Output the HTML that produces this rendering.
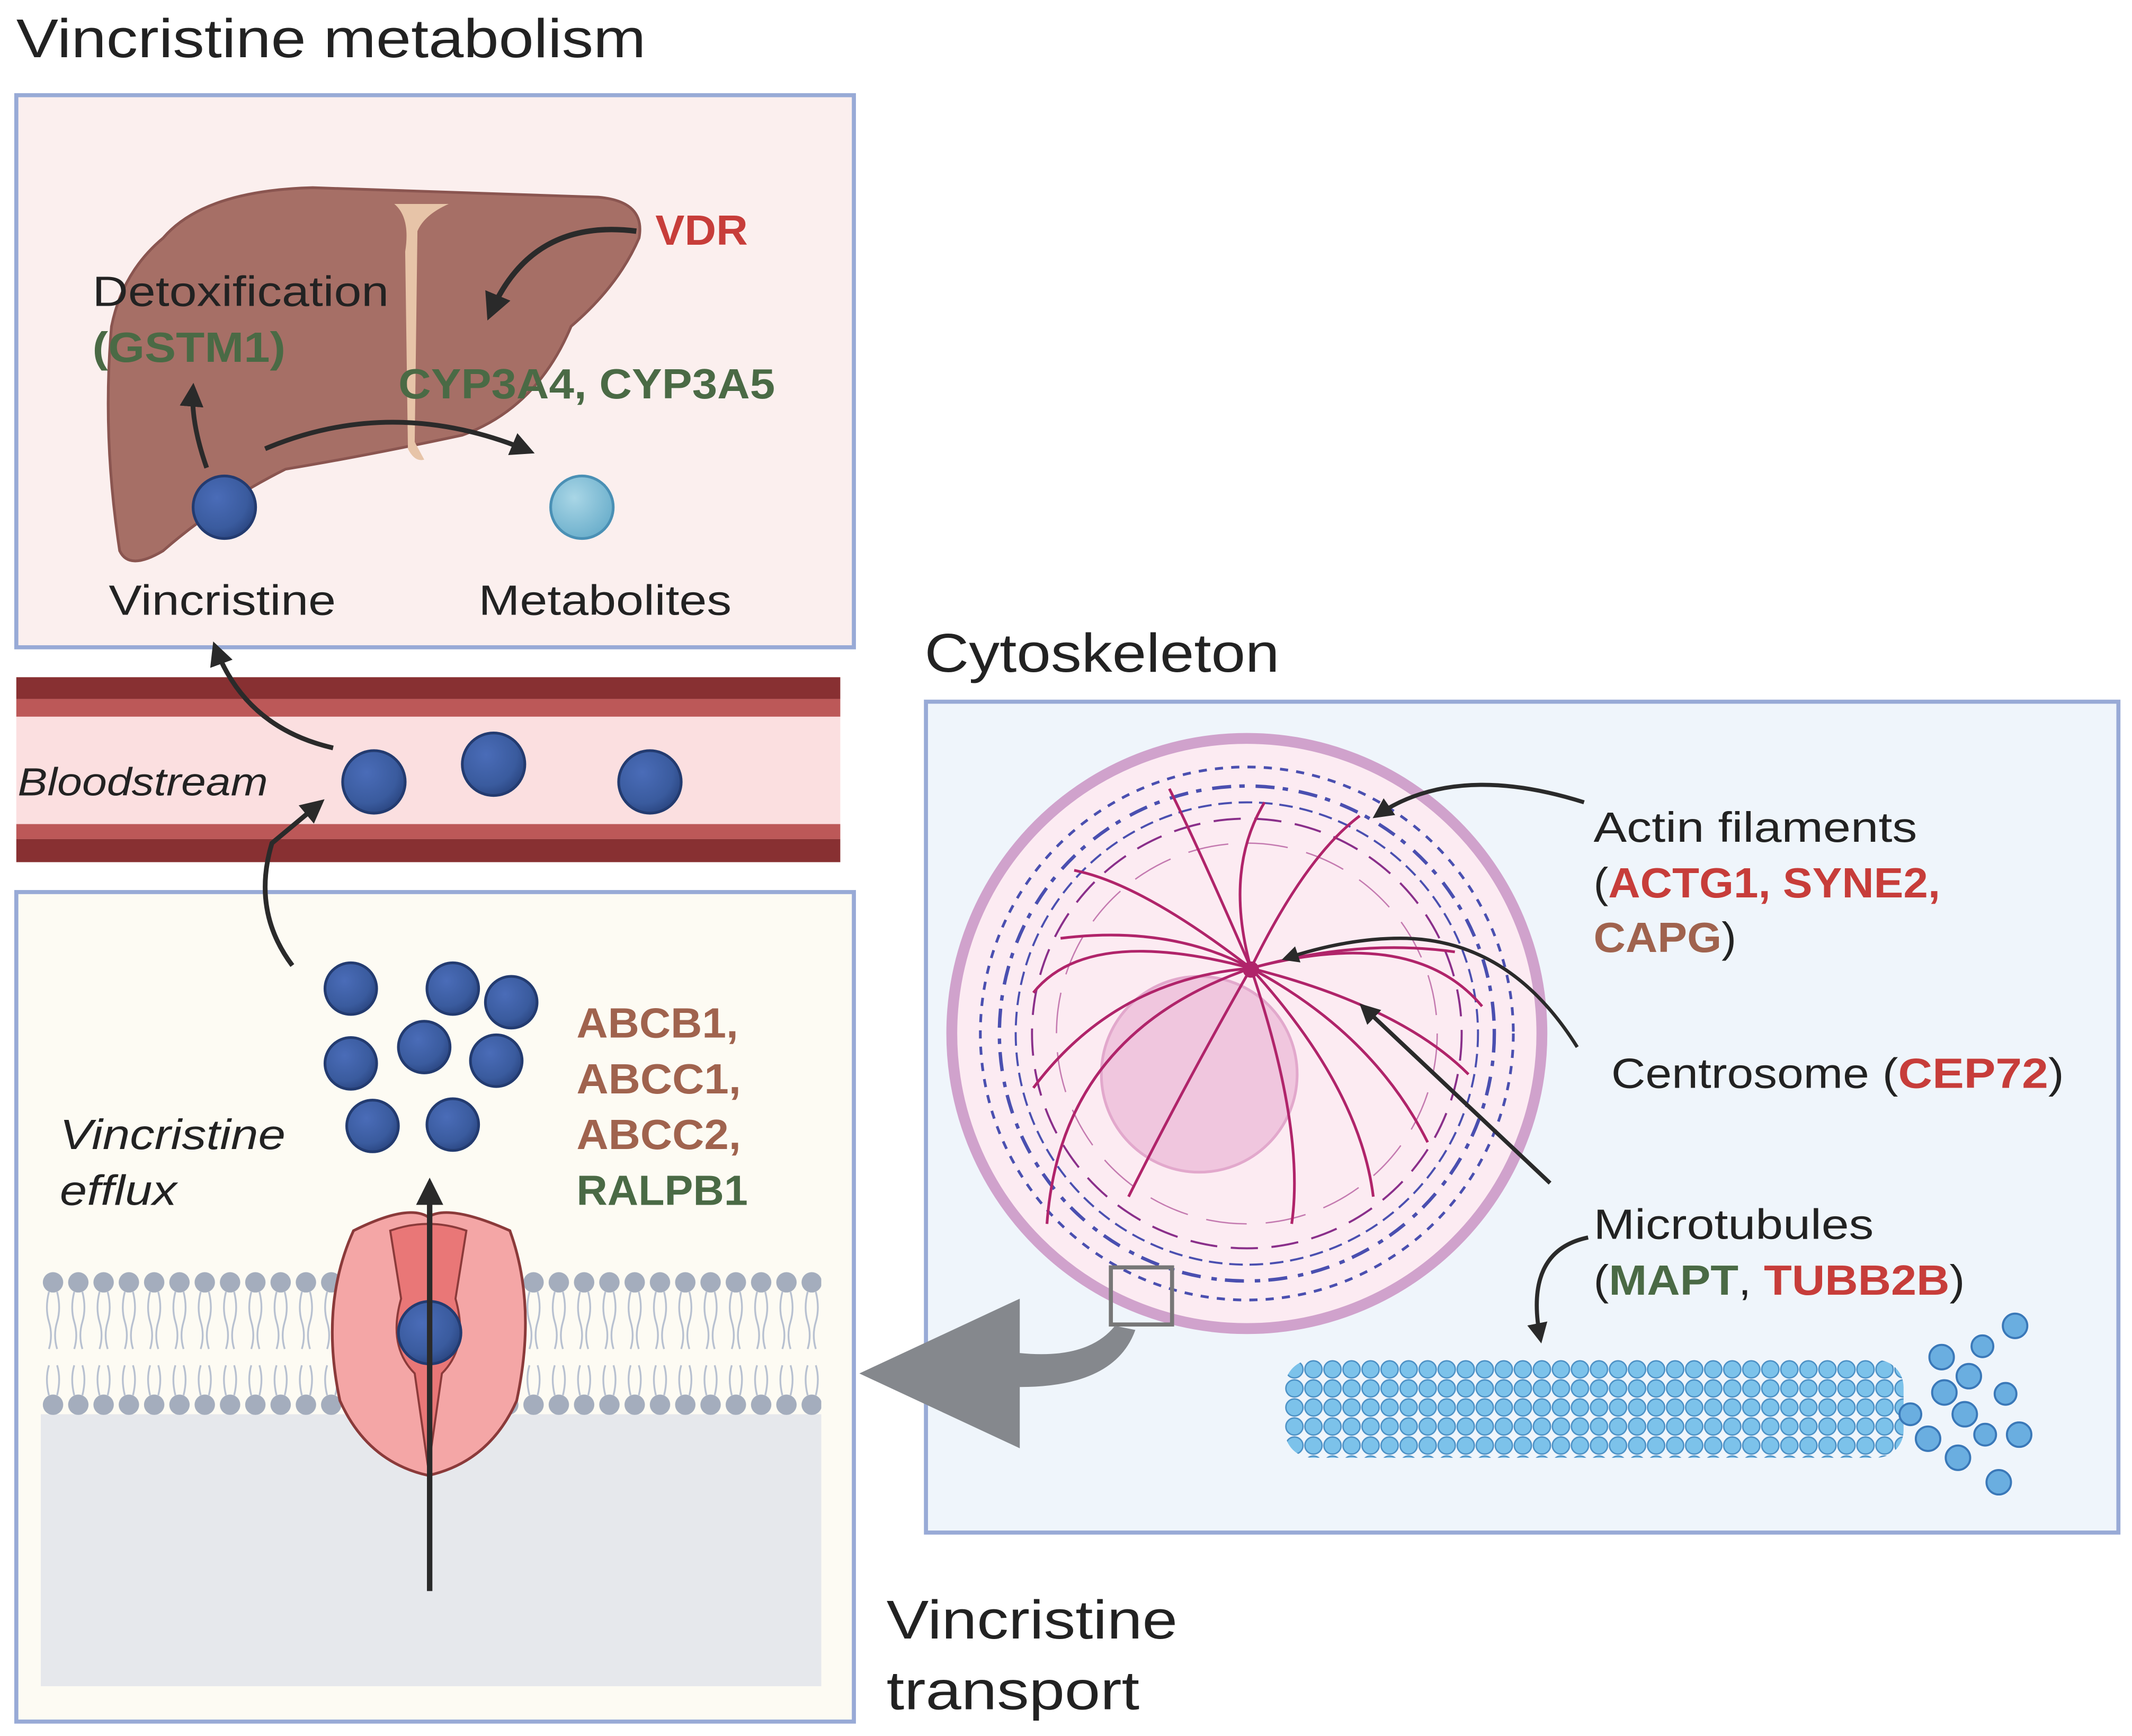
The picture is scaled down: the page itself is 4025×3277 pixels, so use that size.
<!DOCTYPE html>
<html><head><meta charset="utf-8"><style>html,body{margin:0;padding:0;background:#fff}svg{display:block}</style></head><body>
<svg width="4025" height="3277" viewBox="0 0 1568 1276.6" xmlns="http://www.w3.org/2000/svg" font-family="Liberation Sans, sans-serif">
<defs>
<radialGradient id="drug" cx="0.38" cy="0.35" r="0.7"><stop offset="0" stop-color="#4a6cb8"/><stop offset="0.7" stop-color="#3a5b9e"/><stop offset="1" stop-color="#2a4580"/></radialGradient>
<radialGradient id="met" cx="0.38" cy="0.35" r="0.7"><stop offset="0" stop-color="#a9d6e6"/><stop offset="1" stop-color="#6aaecb"/></radialGradient>
<pattern id="mt" x="945" y="1000" width="14" height="14" patternUnits="userSpaceOnUse"><circle cx="7" cy="7" r="6.3" fill="#7cc2ea" stroke="#4a8fc4" stroke-width="1"/></pattern>
<pattern id="lip" x="30" y="930" width="18.6" height="115" patternUnits="userSpaceOnUse"><path d="M6 20 q-3 12 0 22 q3 10 0 20 M12 20 q3 12 0 22 q-3 10 0 20 M6 96 q-3 -12 0 -22 M12 96 q3 -12 0 -22" stroke="#b7c0d0" stroke-width="1.3" fill="none"/><circle cx="9" cy="13" r="7.5" fill="#a4adbd"/><circle cx="9" cy="103" r="7.5" fill="#a4adbd"/></pattern>
<marker id="ah" viewBox="0 0 10 10" refX="8" refY="5" markerWidth="5" markerHeight="5" orient="auto"><path d="M0 0L10 5L0 10z" fill="#2a2a2a"/></marker>
</defs>
<rect width="1568" height="1277" fill="#fff"/>
<!-- metabolism -->
<text x="12" y="42" font-size="40" fill="#222" textLength="463" lengthAdjust="spacingAndGlyphs">Vincristine metabolism</text>
<rect x="12" y="70" width="616" height="406" fill="#fbefee" stroke="#98aad6" stroke-width="3"/>
<path d="M120 175 Q150 140 230 138 L440 145 Q475 148 470 175 Q455 210 420 240 Q395 300 340 320 Q270 335 210 345 Q160 370 120 405 Q95 420 88 405 Q75 320 82 240 Q90 200 120 175Z" fill="#a66f66" stroke="#8a5550" stroke-width="2"/>
<path d="M290 150 Q302 160 298 185 L300 330 Q305 340 312 338 L305 325 L307 170 Q312 158 330 150Z" fill="#e7c4a8"/>
<path d="M468 170 Q390 160 360 232" stroke="#2a2a2a" stroke-width="4" fill="none" marker-end="url(#ah)"/>
<path d="M152 344 Q140 310 142 285" stroke="#2a2a2a" stroke-width="3.5" fill="none" marker-end="url(#ah)"/>
<path d="M195 330 Q290 290 390 332" stroke="#2a2a2a" stroke-width="3.5" fill="none" marker-end="url(#ah)"/>
<text x="68" y="225" font-size="31" fill="#222" textLength="218" lengthAdjust="spacingAndGlyphs">Detoxification</text>
<text x="68" y="266" font-size="31" fill="#4a6a45" font-weight="bold" textLength="142" lengthAdjust="spacingAndGlyphs">(GSTM1)</text>
<text x="482" y="180" font-size="31" fill="#c73d3a" font-weight="bold" textLength="68" lengthAdjust="spacingAndGlyphs">VDR</text>
<text x="293" y="293" font-size="31" fill="#4a6a45" font-weight="bold" textLength="277" lengthAdjust="spacingAndGlyphs">CYP3A4, CYP3A5</text>
<circle cx="165" cy="373" r="23" fill="url(#drug)" stroke="#233b70" stroke-width="2"/>
<circle cx="428" cy="373" r="23" fill="url(#met)" stroke="#4a90b5" stroke-width="2"/>
<text x="80" y="452" font-size="31" fill="#222" textLength="167" lengthAdjust="spacingAndGlyphs">Vincristine</text>
<text x="352" y="452" font-size="31" fill="#222" textLength="186" lengthAdjust="spacingAndGlyphs">Metabolites</text>
<!-- bloodstream -->
<rect x="12" y="498" width="606" height="136" fill="#fbdfe0"/>
<rect x="12" y="498" width="606" height="16" fill="#883032"/>
<rect x="12" y="514" width="606" height="13" fill="#bc5858"/>
<rect x="12" y="606" width="606" height="11" fill="#bc5858"/>
<rect x="12" y="617" width="606" height="17" fill="#883032"/>
<text x="13" y="585" font-size="29" font-style="italic" fill="#222" textLength="184" lengthAdjust="spacingAndGlyphs">Bloodstream</text>
<path d="M245 550 Q180 535 158 475" stroke="#2a2a2a" stroke-width="3.5" fill="none" marker-end="url(#ah)"/>
<circle cx="275" cy="575" r="23" fill="url(#drug)" stroke="#233b70" stroke-width="2"/>
<circle cx="363" cy="562" r="23" fill="url(#drug)" stroke="#233b70" stroke-width="2"/>
<circle cx="478" cy="575" r="23" fill="url(#drug)" stroke="#233b70" stroke-width="2"/>
<!-- transport box -->
<rect x="12" y="656" width="616" height="610" fill="#fdfbf3" stroke="#98aad6" stroke-width="3"/>
<rect x="30" y="1040" width="574" height="200" fill="#e6e8ec"/>
<rect x="30" y="930" width="574" height="115" fill="url(#lip)"/>
<path d="M215 710 Q185 670 200 620 L236 590" stroke="#2a2a2a" stroke-width="3.5" fill="none" marker-end="url(#ah)"/>
<path d="M260 905 Q300 885 315 895 Q330 885 375 905 Q395 960 380 1030 Q360 1075 315 1085 Q270 1075 250 1030 Q235 960 260 905Z" fill="#f4a6a6" stroke="#8b3a3a" stroke-width="2"/>
<path d="M287 905 L295 955 Q285 990 305 1010 L315 1080 L325 1010 Q345 990 335 955 L343 905 Q315 895 287 905Z" fill="#e97777" stroke="#8b3a3a" stroke-width="1.5"/>
<circle cx="316" cy="980" r="23" fill="url(#drug)" stroke="#233b70" stroke-width="2"/>
<line x1="316" y1="1170" x2="316" y2="870" stroke="#2a2a2a" stroke-width="4" marker-end="url(#ah)"/>
<g stroke="#233b70" stroke-width="2" fill="url(#drug)">
<circle cx="258" cy="727" r="19"/><circle cx="333" cy="727" r="19"/><circle cx="376" cy="737" r="19"/>
<circle cx="258" cy="782" r="19"/><circle cx="312" cy="770" r="19"/><circle cx="365" cy="780" r="19"/>
<circle cx="274" cy="828" r="19"/><circle cx="333" cy="827" r="19"/></g>
<text x="424" y="763" font-size="31" fill="#a0634e" font-weight="bold" textLength="119" lengthAdjust="spacingAndGlyphs">ABCB1,</text>
<text x="424" y="804" font-size="31" fill="#a0634e" font-weight="bold" textLength="121" lengthAdjust="spacingAndGlyphs">ABCC1,</text>
<text x="424" y="845" font-size="31" fill="#a0634e" font-weight="bold" textLength="121" lengthAdjust="spacingAndGlyphs">ABCC2,</text>
<text x="424" y="886" font-size="31" fill="#4a6a45" font-weight="bold" textLength="126" lengthAdjust="spacingAndGlyphs">RALPB1</text>
<text x="44" y="845" font-size="31" font-style="italic" fill="#222" textLength="166" lengthAdjust="spacingAndGlyphs">Vincristine</text>
<text x="44" y="886" font-size="31" font-style="italic" fill="#222" textLength="86" lengthAdjust="spacingAndGlyphs">efflux</text>
<text x="652" y="1205" font-size="40" fill="#222" textLength="214" lengthAdjust="spacingAndGlyphs">Vincristine</text>
<text x="652" y="1257" font-size="40" fill="#222" textLength="186" lengthAdjust="spacingAndGlyphs">transport</text>
<!-- cytoskeleton -->
<text x="680" y="494" font-size="40" fill="#222" textLength="261" lengthAdjust="spacingAndGlyphs">Cytoskeleton</text>
<rect x="681" y="516" width="877" height="611" fill="#eff5fb" stroke="#98aad6" stroke-width="3"/>
<circle cx="917" cy="760" r="217" fill="#fcebf2" stroke="#d0a2cc" stroke-width="8"/>
<circle cx="917" cy="760" r="182" fill="none" stroke="#4a4fb0" stroke-width="2.5" stroke-dasharray="14 6 4 8"/>
<circle cx="917" cy="760" r="196" fill="none" stroke="#4a4fb0" stroke-width="2" stroke-dasharray="6 6"/>
<circle cx="917" cy="760" r="170" fill="none" stroke="#4a4fb0" stroke-width="1.5" stroke-dasharray="10 5"/>
<circle cx="917" cy="760" r="158" fill="none" stroke="#8a2f8a" stroke-width="1.5" stroke-dasharray="20 10"/>
<circle cx="917" cy="760" r="140" fill="none" stroke="#c47ab0" stroke-width="1" stroke-dasharray="30 14"/>
<circle cx="882" cy="790" r="72" fill="#f0c6de" stroke="#e2a8cc" stroke-width="2"/>
<g stroke="#b0246a" stroke-width="2" fill="none">
<path d="M920 712 Q860 680 780 690"/><path d="M920 712 Q880 620 860 580"/><path d="M920 712 Q960 630 1000 600"/>
<path d="M920 712 Q1000 690 1070 700"/><path d="M920 712 Q1010 760 1050 840"/><path d="M920 712 Q960 830 950 900"/>
<path d="M920 712 Q820 720 760 800"/><path d="M920 712 Q780 760 770 900"/><path d="M920 712 Q1030 740 1080 790"/>
<path d="M920 712 Q900 640 930 590"/><path d="M920 712 Q840 650 790 640"/><path d="M920 712 Q1000 800 1010 880"/>
<path d="M920 712 Q870 800 830 880"/><path d="M920 712 Q1040 680 1090 740"/><path d="M920 712 Q800 680 760 730"/>
</g>
<circle cx="920" cy="713" r="6" fill="#b0246a"/>
<rect x="817" y="932" width="45" height="42" fill="none" stroke="#777" stroke-width="3"/>
<path d="M835 978 Q820 1020 750 1020 L750 1065 L632 1010 L750 955 L750 995 Q800 1000 820 975Z" fill="#85888d"/>
<path d="M1165 590 Q1070 560 1012 600" stroke="#2a2a2a" stroke-width="3" fill="none" marker-end="url(#ah)"/>
<path d="M1160 770 Q1110 690 1030 690 Q990 690 945 705" stroke="#2a2a2a" stroke-width="2.5" fill="none" marker-end="url(#ah)"/>
<line x1="1140" y1="870" x2="1002" y2="740" stroke="#2a2a2a" stroke-width="3" marker-end="url(#ah)"/>
<path d="M1168 910 Q1120 920 1133 985" stroke="#2a2a2a" stroke-width="3" fill="none" marker-end="url(#ah)"/>
<text x="1172" y="619" font-size="31" fill="#222" textLength="238" lengthAdjust="spacingAndGlyphs">Actin filaments</text>
<text x="1172" y="660" font-size="31" fill="#222" textLength="255" lengthAdjust="spacingAndGlyphs">(<tspan fill="#c73d3a" font-weight="bold">ACTG1, SYNE2,</tspan></text>
<text x="1172" y="700" font-size="31" fill="#222" textLength="105" lengthAdjust="spacingAndGlyphs"><tspan fill="#a0634e" font-weight="bold">CAPG</tspan>)</text>
<text x="1185" y="800" font-size="31" fill="#222" textLength="333" lengthAdjust="spacingAndGlyphs">Centrosome (<tspan fill="#c73d3a" font-weight="bold">CEP72</tspan>)</text>
<text x="1172" y="911" font-size="31" fill="#222" textLength="206" lengthAdjust="spacingAndGlyphs">Microtubules</text>
<text x="1172" y="952" font-size="31" fill="#222" textLength="273" lengthAdjust="spacingAndGlyphs">(<tspan fill="#4a6a45" font-weight="bold">MAPT</tspan>, <tspan fill="#c73d3a" font-weight="bold">TUBB2B</tspan>)</text>
<rect x="945" y="1000" width="455" height="72" rx="20" fill="url(#mt)"/>
<g fill="#6aaee0" stroke="#3a78b8" stroke-width="1.5">
<circle cx="1428" cy="998" r="9"/><circle cx="1458" cy="990" r="8"/><circle cx="1482" cy="975" r="9"/><circle cx="1448" cy="1012" r="9"/>
<circle cx="1430" cy="1024" r="9"/><circle cx="1475" cy="1025" r="8"/><circle cx="1445" cy="1040" r="9"/><circle cx="1418" cy="1058" r="9"/>
<circle cx="1485" cy="1055" r="9"/><circle cx="1460" cy="1055" r="8"/><circle cx="1440" cy="1072" r="9"/><circle cx="1470" cy="1090" r="9"/><circle cx="1405" cy="1040" r="8"/></g>
</svg>
</body></html>
